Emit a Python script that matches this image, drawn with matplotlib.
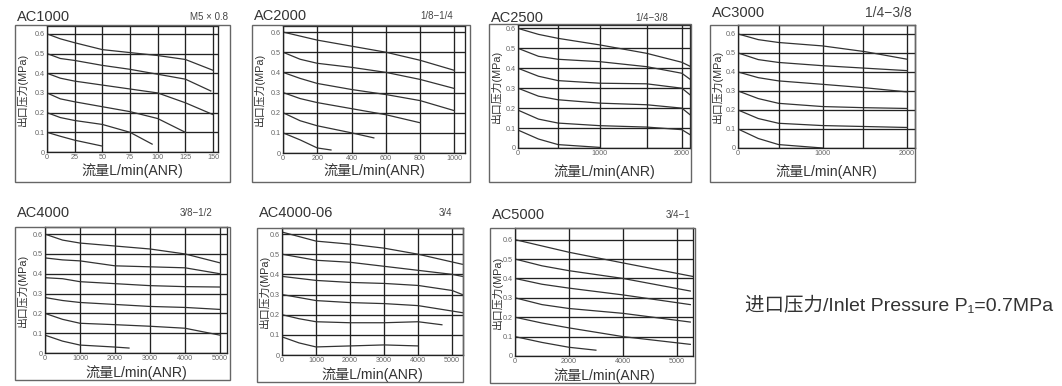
import matplotlib
matplotlib.use('Agg')
import matplotlib.pyplot as plt
from matplotlib.patches import Rectangle

plt.rcParams['font.family'] = ['Liberation Sans', 'Noto Sans CJK SC', 'DejaVu Sans']

W, H = 1062, 386

# ---- data (flow, outlet pressure MPa) ----
ac1000_curves = [
    ([0, 12, 25, 50, 75, 100, 125, 150], [0.60, 0.575, 0.555, 0.52, 0.505, 0.49, 0.47, 0.415]),
    ([0, 12, 25, 50, 75, 100, 125, 148], [0.50, 0.475, 0.465, 0.44, 0.42, 0.395, 0.37, 0.31]),
    ([0, 12, 25, 50, 75, 100, 125, 150], [0.40, 0.375, 0.36, 0.34, 0.32, 0.30, 0.25, 0.19]),
    ([0, 12, 25, 50, 75, 100, 125], [0.30, 0.27, 0.255, 0.23, 0.205, 0.17, 0.10]),
    ([0, 12, 25, 50, 75, 95], [0.20, 0.175, 0.16, 0.14, 0.10, 0.04]),
    ([0, 12, 25, 50], [0.10, 0.08, 0.06, 0.03]),
]
ac1000_ticks = [0, 25, 50, 75, 100, 125, 150]

ac2000_curves = [
    ([0, 100, 200, 400, 600, 800, 1000], [0.60, 0.58, 0.56, 0.53, 0.50, 0.46, 0.41]),
    ([0, 100, 200, 400, 600, 800, 1000], [0.50, 0.465, 0.445, 0.425, 0.40, 0.365, 0.32]),
    ([0, 100, 200, 400, 600, 800, 1000], [0.40, 0.37, 0.345, 0.315, 0.29, 0.26, 0.21]),
    ([0, 100, 200, 400, 600, 800], [0.30, 0.27, 0.25, 0.22, 0.19, 0.15]),
    ([0, 100, 200, 400, 530], [0.20, 0.16, 0.135, 0.10, 0.075]),
    ([0, 100, 200, 280], [0.10, 0.065, 0.025, 0.015]),
]
ac2000_ticks = [0, 200, 400, 600, 800, 1000]

ac2500_curves = [
    ([0, 250, 490, 1000, 1570, 2000, 2100], [0.60, 0.57, 0.55, 0.517, 0.475, 0.43, 0.41]),
    ([0, 250, 490, 1000, 1570, 2000, 2100], [0.50, 0.46, 0.445, 0.433, 0.408, 0.375, 0.345]),
    ([0, 250, 490, 1000, 1570, 2000, 2100], [0.40, 0.36, 0.338, 0.325, 0.322, 0.30, 0.267]),
    ([0, 250, 490, 1000, 1570, 2000, 2100], [0.30, 0.26, 0.242, 0.225, 0.217, 0.20, 0.167]),
    ([0, 250, 490, 1000, 1570, 2000, 2100], [0.19, 0.145, 0.125, 0.112, 0.105, 0.092, 0.067]),
    ([0, 250, 490, 1000], [0.09, 0.045, 0.017, 0.003]),
]
ac2500_ticks = [0, 1000, 2000]
ac2500_extra = [490, 1570]

ac3000_curves = [
    ([0, 240, 480, 1000, 1500, 2000], [0.60, 0.57, 0.555, 0.537, 0.507, 0.467]),
    ([0, 240, 480, 1000, 1500, 2000], [0.50, 0.465, 0.45, 0.433, 0.42, 0.407]),
    ([0, 240, 480, 1000, 1500, 2000], [0.40, 0.37, 0.353, 0.335, 0.317, 0.295]),
    ([0, 240, 480, 1000, 1500, 2000], [0.30, 0.26, 0.235, 0.218, 0.212, 0.208]),
    ([0, 240, 480, 1000, 1500, 2000], [0.20, 0.155, 0.13, 0.118, 0.113, 0.108]),
    ([0, 240, 480, 1000], [0.10, 0.05, 0.018, 0.0]),
]
ac3000_ticks = [0, 1000, 2000]
ac3000_extra = [480, 1480]

ac4000_curves = [
    ([0, 500, 1000, 2000, 3000, 4000, 5000], [0.60, 0.57, 0.555, 0.54, 0.525, 0.50, 0.455]),
    ([0, 500, 1000, 2000, 3000, 4000, 5000], [0.48, 0.47, 0.465, 0.44, 0.435, 0.43, 0.40]),
    ([0, 500, 1000, 2000, 3000, 4000, 5000], [0.38, 0.375, 0.36, 0.35, 0.34, 0.335, 0.333]),
    ([0, 500, 1000, 2000, 3000, 4000, 5000], [0.28, 0.265, 0.255, 0.245, 0.235, 0.23, 0.22]),
    ([0, 500, 1000, 2000, 3000, 4000, 5000], [0.20, 0.17, 0.15, 0.143, 0.135, 0.125, 0.09]),
    ([0, 500, 1000, 2000, 2400], [0.09, 0.06, 0.04, 0.03, 0.025]),
]
ac4000_ticks = [0, 1000, 2000, 3000, 4000, 5000]

ac4000_06_curves = [
    ([0, 1000, 2000, 3000, 4000, 5300], [0.61, 0.565, 0.55, 0.53, 0.50, 0.45]),
    ([0, 1000, 2000, 3000, 4000, 5000, 5300], [0.50, 0.47, 0.46, 0.44, 0.42, 0.40, 0.39]),
    ([0, 1000, 2000, 3000, 4000, 5000, 5300], [0.39, 0.37, 0.36, 0.355, 0.345, 0.32, 0.30]),
    ([0, 1000, 2000, 3000, 4000, 5300], [0.30, 0.27, 0.26, 0.255, 0.245, 0.21]),
    ([0, 500, 1000, 2000, 3000, 4000, 4700], [0.20, 0.18, 0.165, 0.16, 0.16, 0.165, 0.15]),
    ([0, 500, 1000, 2000, 3000, 4000], [0.09, 0.06, 0.04, 0.045, 0.05, 0.045]),
]
ac4000_06_ticks = [0, 1000, 2000, 3000, 4000, 5000]

ac5000_curves = [
    ([0, 2000, 4000, 6600], [0.60, 0.535, 0.48, 0.41]),
    ([0, 1000, 2000, 4000, 6500], [0.50, 0.465, 0.44, 0.40, 0.335]),
    ([0, 1000, 2000, 4000, 6500], [0.40, 0.37, 0.35, 0.315, 0.265]),
    ([0, 1000, 2000, 4000, 6500], [0.30, 0.265, 0.245, 0.22, 0.175]),
    ([0, 1000, 2000, 4000, 6500], [0.20, 0.17, 0.145, 0.10, 0.06]),
    ([0, 1000, 2000, 3000], [0.10, 0.07, 0.045, 0.03]),
]
ac5000_ticks = [0, 2000, 4000, 6000]
ac5000_ticklabels = ['0', '2000', '4000', '5000']

y_ticks = [0, 0.1, 0.2, 0.3, 0.4, 0.5, 0.6]
y_ticklabels = ['0', '0.1', '0.2', '0.3', '0.4', '0.5', '0.6']

fig = plt.figure(figsize=(W / 100, H / 100), dpi=100)
fig.patch.set_facecolor('white')


def fbox(l, t, r, b):
    return [l / W, 1 - b / H, (r - l) / W, (b - t) / H]


def panel(name, title_y, size, size_fs, size_r, outer, inner, xlabel_y, xmax, ymax,
          curves, ticks, ticklabels=None, extra=()):
    l, t, r, b = outer
    fig.patches.append(Rectangle((l / W, 1 - b / H), (r - l) / W, (b - t) / H,
                                 transform=fig.transFigure, fill=False,
                                 ec='#666666', lw=1.0))
    fig.text((l + 2) / W, 1 - title_y / H, name, fontsize=10.5,
             color='#333333', va='center', ha='left')
    fig.text(size_r / W, 1 - title_y / H, size, fontsize=size_fs,
             color='#444444', va='center', ha='right')
    ax = fig.add_axes(fbox(*inner))
    for x, y in curves:
        ax.plot(x, y, color='#333333', lw=0.9)
    ax.set_xlim(0, xmax)
    ax.set_ylim(0, ymax)
    ax.set_xticks(ticks)
    ax.set_xticklabels(ticklabels if ticklabels else [str(v) for v in ticks])
    ax.set_yticks(y_ticks)
    ax.set_yticklabels(y_ticklabels)
    ax.grid(True, color='#222222', lw=0.95)
    for v in extra:
        ax.axvline(v, color='#222222', lw=0.95)
    ax.tick_params(length=0, labelsize=5.2, labelcolor='#666666', pad=1.5)
    for s in ax.spines.values():
        s.set_color('#222222')
        s.set_linewidth(0.95)
    cx = (inner[0] + inner[2]) / 2
    fig.text(cx / W, 1 - xlabel_y / H, '流量L/min(ANR)', fontsize=10.2,
             color='#333333', ha='center', va='center')
    fig.text((l + 7) / W, 1 - ((inner[1] + inner[3]) / 2) / H, '出口压力(MPa)',
             fontsize=7.8, color='#333333', rotation=90, ha='center', va='center')
    return ax


panel('AC1000', 17, 'M5 × 0.8', 7, 228, (15, 25, 230, 182), (47, 26, 218, 152), 171,
      154.5, 0.64, ac1000_curves, ac1000_ticks)
panel('AC2000', 16, '1/8−1/4', 7, 453, (252, 25, 470, 182), (283, 26, 465, 153), 171,
      1062, 0.63, ac2000_curves, ac2000_ticks)
panel('AC2500', 18, '1/4−3/8', 7, 668, (489, 24, 691, 182), (518, 25, 690, 148), 172,
      2100, 0.617, ac2500_curves, ac2500_ticks, extra=ac2500_extra)
panel('AC3000', 13, '1/4−3/8', 10, 912, (710, 25, 915, 182), (738, 25, 915, 148), 172,
      2094, 0.647, ac3000_curves, ac3000_ticks, extra=ac3000_extra)
panel('AC4000', 213, '3/8−1/2', 7, 212, (15, 227, 230, 380), (45, 227, 227, 353), 373,
      5200, 0.636, ac4000_curves, ac4000_ticks)
panel('AC4000-06', 213, '3/4', 7, 452, (257, 228, 463, 382), (282, 228, 463, 355), 375,
      5320, 0.63, ac4000_06_curves, ac4000_06_ticks)
panel('AC5000', 215, '3/4−1', 7, 690, (490, 228, 695, 383), (515, 228, 693, 356), 376,
      6600, 0.66, ac5000_curves, ac5000_ticks, ac5000_ticklabels)

fig.text(745 / W, 1 - 306 / H, '进口压力/Inlet Pressure P₁=0.7MPa', fontsize=14,
         color='#333333', ha='left', va='center')

fig.savefig('out.png', dpi=100, facecolor='white')
